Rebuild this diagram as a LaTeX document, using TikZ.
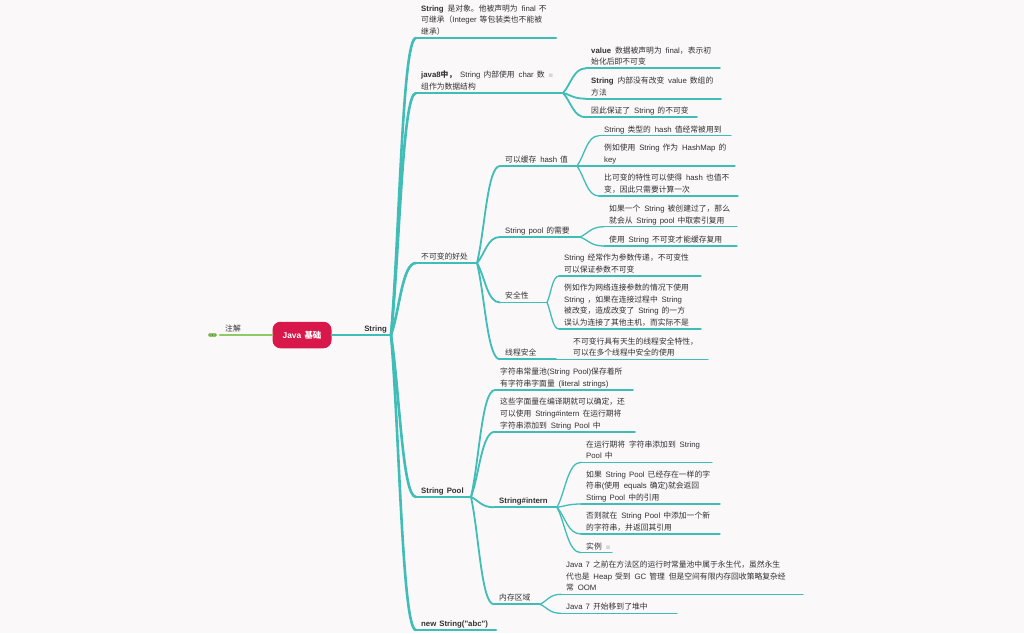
\documentclass[tikz,border=0pt]{standalone}
\usepackage{fontspec}
\setmainfont{Noto Sans CJK SC}[WordSpace=2.2]
\newfontfamily\cjkfam{Noto Sans CJK SC}[WordSpace=2.2]
\newfontfamily\latinfam{Liberation Sans}[WordSpace=1.4]
\newfontfamily\symfont{DejaVu Sans}
\usetikzlibrary{calc}

% Latin letters in Liberation Sans, CJK in Noto Sans CJK SC
\newXeTeXintercharclass\cjkclass
\newcount\cjkcode
\newcommand\setcjkrange[2]{%
  \cjkcode=#1
  \loop \XeTeXcharclass\cjkcode=\cjkclass
    \ifnum\cjkcode<#2 \advance\cjkcode by 1 \repeat}
\setcjkrange{"3000}{"303F}
\setcjkrange{"4E00}{"9FFF}
\setcjkrange{"FF00}{"FFEF}
\XeTeXinterchartokenstate=1
\XeTeXinterchartoks 4095 0 = {\latinfam}
\XeTeXinterchartoks \cjkclass 0 = {\latinfam}
\XeTeXinterchartoks 4095 \cjkclass = {\cjkfam}
\XeTeXinterchartoks 0 \cjkclass = {\cjkfam}

\definecolor{bgcol}{HTML}{FBF8FA}
\definecolor{mapteal}{HTML}{3FBDB6}
\definecolor{mapgreen}{HTML}{8DC965}
\definecolor{rootred}{HTML}{D8174A}
\definecolor{txtcol}{HTML}{333033}

\tikzset{
  txt/.style={anchor=south west, inner sep=0pt, align=left, text=txtcol,
    font=\fontsize{7.8}{11.6}\selectfont, execute at end node=\strut},
  uline/.style={draw=mapteal, line cap=round},
  lvl1/.style={line width=2.6pt},
  lvl2/.style={line width=1.8pt},
  lvl3/.style={line width=1.3pt},
  branch/.style={draw=mapteal, line cap=round, to path={let \p1=(\tikztostart), \p2=(\tikztotarget) in
    .. controls ({\x1+0.35*(\x2-\x1)},{\y1+0.35*(\y2-\y1)}) and ({\x1+0.45*(\x2-\x1)},\y2) .. (\tikztotarget)}},
  root/.style={fill=rootred, text=white, rounded corners=8pt, minimum width=59pt,
    minimum height=26.5pt, inner sep=0pt, font=\bfseries\fontsize{8.4}{10}\selectfont},
  fold/.style={fill=mapgreen, rounded corners=1.5pt, minimum width=9pt, minimum height=3.6pt, inner sep=0pt},
}

% topic: underline from start to end, text sitting on it
\newcommand\mtopic[6][lvl3]{%
  \coordinate (#2-s) at (#3,#4);
  \coordinate (#2-e) at (#5,#4);
  \draw[uline,#1] (#2-s) -- (#2-e);
  \node[txt] (#2) at ([xshift=5pt]#2-s) {#6};}
\newcommand\noteicon{{\XeTeXinterchartokenstate=0 \symfont\fontsize{6}{6}\selectfont\color{gray!70}≡}}

\begin{document}
\begin{tikzpicture}[x=1pt,y=-1pt]
\useasboundingbox (0,0) rectangle (1024,633);
\fill[bgcol] (0,0) rectangle (1024,633);

% centre
\node[root] (root) at (302,335) {Java 基础};

% left side
\coordinate (ann-s) at (220,335);
\coordinate (ann-e) at (root.west);
\draw[uline,lvl1,draw=mapgreen] (ann-s) -- (ann-e);
\node[txt] (ann) at ([xshift=5pt]ann-s) {注解};
\node[fold] (fold) at (212.5,335) {};
\foreach \k in {-2.6,0,2.6} \fill[txtcol] ([xshift=\k pt]fold.center) circle (0.6pt);

% right side
\coordinate (str-s) at (root.east);
\coordinate (str-e) at (391,335);
\draw[uline,lvl1] (str-s) -- (str-e);
\node[txt,anchor=south east,font=\bfseries\fontsize{7.8}{11.6}\selectfont] (str) at ([xshift=-4pt]str-e) {String};

\mtopic[lvl1]{t1}{416}{38}{556}{\textbf{String} 是对象。他被声明为 final 不\\可继承（Integer 等包装类也不能被\\继承）}
\mtopic[lvl1]{t2}{416}{93}{563}{\textbf{java8中，} String 内部使用 char 数 \noteicon\\组作为数据结构}
\mtopic[lvl1]{t3}{416}{263}{477}{不可变的好处}
\mtopic[lvl1]{t4}{416}{497}{471}{\textbf{String Pool}}
\mtopic[lvl1]{t5}{416}{630}{496}{\textbf{new String("abc")}}

\mtopic[lvl2]{a1}{586}{68.3}{720}{\textbf{value} 数据被声明为 final，表示初\\始化后即不可变}
\mtopic[lvl2]{a2}{586}{98.7}{721}{\textbf{String} 内部没有改变 value 数组的\\方法}
\mtopic[lvl2]{a3}{586}{117.3}{697}{因此保证了 String 的不可变}

\mtopic[lvl2]{b1}{500}{166}{577}{可以缓存 hash 值}
\mtopic[lvl2]{b2}{500}{237}{580}{String pool 的需要}
\mtopic[lvl2]{b3}{500}{302.5}{547}{安全性}
\mtopic[lvl2]{b4}{500}{359.3}{556}{线程安全}

\mtopic{c1}{599}{135.7}{731}{String 类型的 hash 值经常被用到}
\mtopic{c2}{599}{166}{735}{例如使用 String 作为 HashMap 的\\key}
\mtopic{c3}{599}{196}{738}{比可变的特性可以使得 hash 也值不\\变，因此只需要计算一次}
\mtopic{c4}{604}{226.7}{737}{如果一个 String 被创建过了，那么\\就会从 String pool 中取索引复用}
\mtopic{c5}{604}{246}{737}{使用 String 不可变才能缓存复用}
\mtopic{c6}{559}{276}{701}{String 经常作为参数传递，不可变性\\可以保证参数不可变}
\mtopic{c7}{559}{329}{701}{例如作为网络连接参数的情况下使用\\String ，如果在连接过程中 String\\被改变，造成改变了 String 的一方\\误认为连接了其他主机，而实际不是}
\mtopic{c8}{568}{359.3}{708}{不可变行具有天生的线程安全特性，\\可以在多个线程中安全的使用}

\mtopic[lvl2]{d1}{495}{390}{633}{字符串常量池(String Pool)保存着所\\有字符串字面量 (literal strings)}
\mtopic[lvl2]{d2}{495}{431.7}{635}{这些字面量在编译期就可以确定，还\\可以使用 String\#intern 在运行期将\\字符串添加到 String Pool 中}
\mtopic[lvl2]{d3}{494}{507.3}{557}{\textbf{String\#intern}}
\mtopic[lvl2]{d4}{494}{604.3}{540}{内存区域}

\mtopic{e1}{581}{462.3}{712}{在运行期将 字符串添加到 String\\Pool 中}
\mtopic{e2}{581}{504}{720}{如果 String Pool 已经存在一样的字\\符串(使用 equals 确定)就会返回\\Stirng Pool 中的引用}
\mtopic{e3}{581}{534}{720}{否则就在 String Pool 中添加一个新\\的字符串，并返回其引用}
\mtopic{e4}{581}{552.7}{612}{实例 \noteicon}
\mtopic{f1}{561}{594.3}{803}{Java 7 之前在方法区的运行时常量池中属于永生代，虽然永生\\代也是 Heap 受到 GC 管理 但是空间有限内存回收策略复杂经\\常 OOM}
\mtopic{f2}{561}{613.3}{677}{Java 7 开始移到了堆中}

% connectors
\foreach \src/\dst in {str/t1,str/t2,str/t3,str/t4,str/t5}
  \draw[branch,lvl1] (\src-e) to (\dst-s);
\foreach \src/\dst in {t2/a1,t2/a2,t2/a3,t3/b1,t3/b2,t3/b3,t3/b4,t4/d1,t4/d2,t4/d3,t4/d4}
  \draw[branch,lvl2] (\src-e) to (\dst-s);
\foreach \src/\dst in {b1/c1,b1/c2,b1/c3,b2/c4,b2/c5,b3/c6,b3/c7,b4/c8,d3/e1,d3/e2,d3/e3,d3/e4,d4/f1,d4/f2}
  \draw[branch,lvl3] (\src-e) to (\dst-s);
\end{tikzpicture}
\end{document}
